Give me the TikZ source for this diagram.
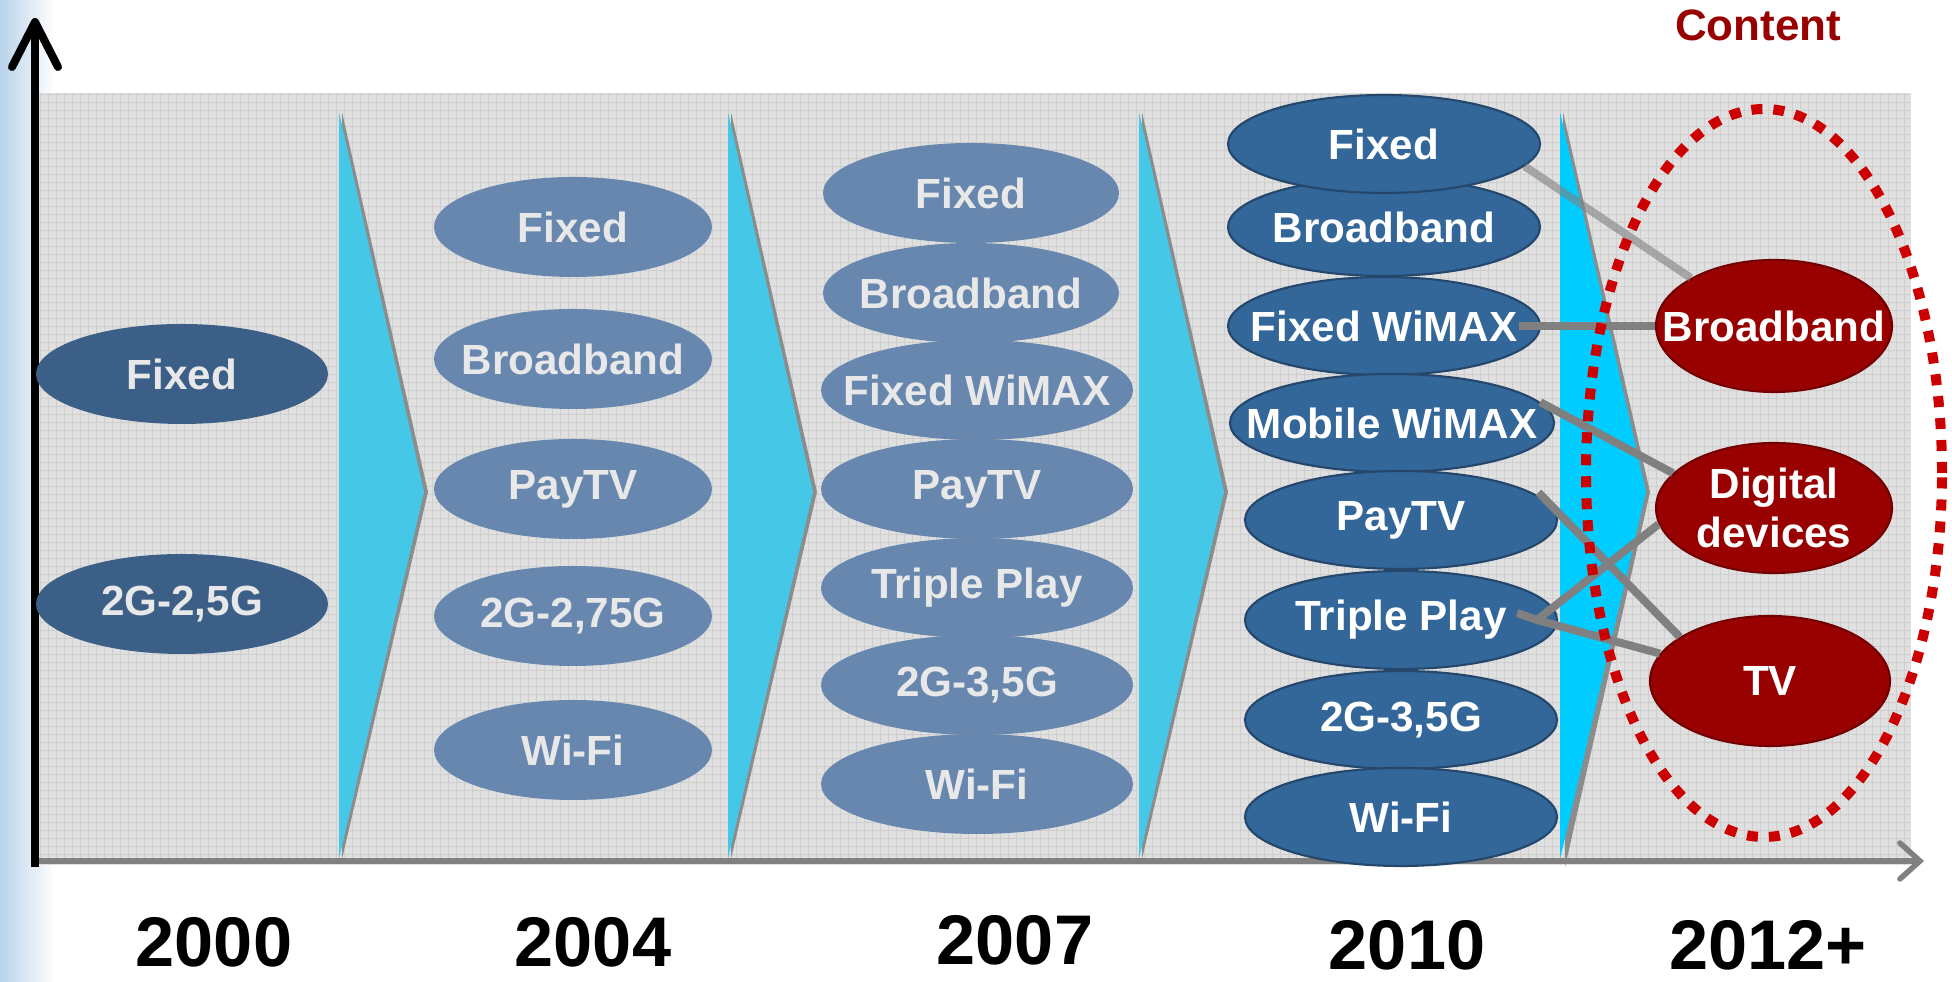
\documentclass[tikz,border=0pt]{standalone}
\usepackage{fontspec}
\setmainfont{Liberation Sans}
\usepackage{tikz}
\usetikzlibrary{shapes.geometric}
\usetikzlibrary{arrows.meta}
\definecolor{stripblue}{HTML}{B9D3EA}
\definecolor{panelgray}{HTML}{E0E0E0}
\definecolor{gridgray}{HTML}{CECECE}
\definecolor{edgegray}{HTML}{8C8C8C}
\definecolor{chevcyan}{HTML}{45C7E8}
\definecolor{brightcyan}{HTML}{00CCFF}
\definecolor{oldblue}{HTML}{3C5F88}
\definecolor{midblue}{HTML}{6787AE}
\definecolor{techblue}{HTML}{336699}
\definecolor{paletext}{HTML}{E8E8E8}
\definecolor{contentred}{HTML}{990000}
\definecolor{dotred}{HTML}{CC0000}
\definecolor{linkgray}{HTML}{808080}
\tikzset{
    tech/.style={shape=ellipse, inner xsep=-0.6cm, inner ysep=0pt, minimum width=3.12cm, minimum height=0.98cm, font=\fontsize{12}{14}\selectfont\bfseries},
    old/.style={tech, fill=oldblue, text=paletext, minimum width=2.92cm, minimum height=1cm},
    mid/.style={tech, fill=midblue, text=paletext, minimum height=1cm},
    new/.style={tech, fill=techblue, draw=techblue!70!black, line width=0.6pt, text=white},
    content/.style={tech, fill=contentred, draw=contentred!75!black, line width=0.6pt, text=white, minimum width=2.36cm, minimum height=1.32cm, align=center},
    link/.style={draw=linkgray, line width=0.08cm},
    year/.style={inner sep=0pt, font=\fontsize{20}{24}\selectfont\bfseries},
    haxis/.style={draw=linkgray, line width=0.055cm, -{Straight Barb[length=2mm, width=3.6mm, line cap=round]}},
    vaxis/.style={draw=black, line width=0.08cm, -{Straight Barb[length=4.5mm, width=4.6mm, line cap=round, line join=round]}}
}
\begin{document}
\begin{tikzpicture}
    \useasboundingbox (0,0) rectangle (19.52,9.82);

    \shade[left color=stripblue, right color=white] (0,0) rectangle (0.55,9.82);
    \fill[panelgray] (0.37,1.17) rectangle (19.11,8.89);
    \draw[gridgray, line width=0.2pt, step=0.08] (0.37,1.17) grid (19.11,8.89);

    % chevrons between the years
    \foreach \x in {3.39,7.28,11.39} {
        \fill[edgegray] (\x+0.03,8.70) -- (\x+0.89,4.90) -- (\x+0.03,1.23) -- cycle;
        \fill[chevcyan] (\x,8.70) -- (\x+0.85,4.90) -- (\x,1.23) -- cycle;
    }
    \fill[edgegray] (15.63,8.70) -- (16.50,4.90) -- (15.65,1.15) -- cycle;
    \fill[brightcyan] (15.60,8.70) -- (16.46,4.90) -- (15.60,1.23) -- cycle;

    \coordinate (origin) at (0.35,1.21);
    \coordinate (xend) at (19.24,1.21);
    \coordinate (yfoot) at (0.35,1.15);
    \coordinate (yend) at (0.35,9.64);
    \draw[haxis] (origin) -- (xend);
    \draw[vaxis] (yfoot) -- (yend);

    \node[old] (fx00) at (1.82,6.08) {Fixed};
    \node[old] (g00) at (1.82,3.78) {2G-2,5G};

    \node[mid, minimum width=2.78cm] (fx04) at (5.73,7.55) {Fixed};
    \node[mid, minimum width=2.78cm] (bb04) at (5.73,6.23) {Broadband};
    \node[mid, minimum width=2.78cm] (pt04) at (5.73,4.93) {PayTV};
    \node[mid, minimum width=2.78cm] (g04) at (5.73,3.66) {2G-2,75G};
    \node[mid, minimum width=2.78cm] (wf04) at (5.73,2.32) {Wi-Fi};

    \node[mid, minimum width=2.96cm] (fx07) at (9.71,7.89) {Fixed};
    \node[mid, minimum width=2.96cm] (bb07) at (9.71,6.89) {Broadband};
    \node[mid] (fw07) at (9.77,5.92) {Fixed WiMAX};
    \node[mid] (pt07) at (9.77,4.93) {PayTV};
    \node[mid] (tp07) at (9.77,3.94) {Triple Play};
    \node[mid] (g07) at (9.77,2.97) {2G-3,5G};
    \node[mid] (wf07) at (9.77,1.98) {Wi-Fi};

    \node[new] (bb10) at (13.84,7.55) {Broadband};
    \node[new] (fx10) at (13.84,8.38) {Fixed};
    \node[new] (fw10) at (13.84,6.56) {Fixed WiMAX};
    \node[new, minimum width=3.24cm] (mw10) at (13.92,5.59) {Mobile WiMAX};
    \node[new] (pt10) at (14.01,4.62) {PayTV};
    \node[new] (tp10) at (14.01,3.62) {Triple Play};
    \node[new] (g10) at (14.01,2.62) {2G-3,5G};
    \node[new] (wf10) at (14.01,1.65) {Wi-Fi};

    \node[content] (bb12) at (17.74,6.56) {Broadband};
    \node[content, minimum height=1.30cm] (dd12) at (17.74,4.74) {Digital\\devices};
    \node[content, minimum width=2.40cm, minimum height=1.30cm] (tv12) at (17.70,3.01) {TV};

    \draw[link, opacity=0.6] (fx10.-9) -- (bb12.150);
    \draw[link, shorten <=-0.22cm] (fw10.east) -- (bb12.west);
    \draw[link] (mw10.8) -- (dd12.161);
    \draw[link, shorten <=-0.2cm] (pt10.5) -- (tv12.154);
    \draw[link] ([shift={(-0.41,0.07)}]tp10.east) -- ([xshift=-0.21cm]tp10.east) coordinate (tpj) -- (dd12.188);
    \draw[link] (tpj) -- (tv12.166);

    \node[draw=dotred, line width=0.1cm, dash pattern=on 0.11cm off 0.11cm, shape=ellipse, inner sep=0pt, minimum width=3.56cm, minimum height=7.28cm] (grp) at (17.64,5.09) {};
    \node[font=\fontsize{12.5}{15}\selectfont\bfseries, text=contentred] (lbl) at (17.58,9.57) {Content};

    \node[year] (y00) at (2.14,0.40) {2000};
    \node[year] (y04) at (5.93,0.40) {2004};
    \node[year] (y07) at (10.15,0.42) {2007};
    \node[year] (y10) at (14.07,0.37) {2010};
    \node[year] (y12) at (17.68,0.37) {2012+};

\end{tikzpicture}
\end{document}
